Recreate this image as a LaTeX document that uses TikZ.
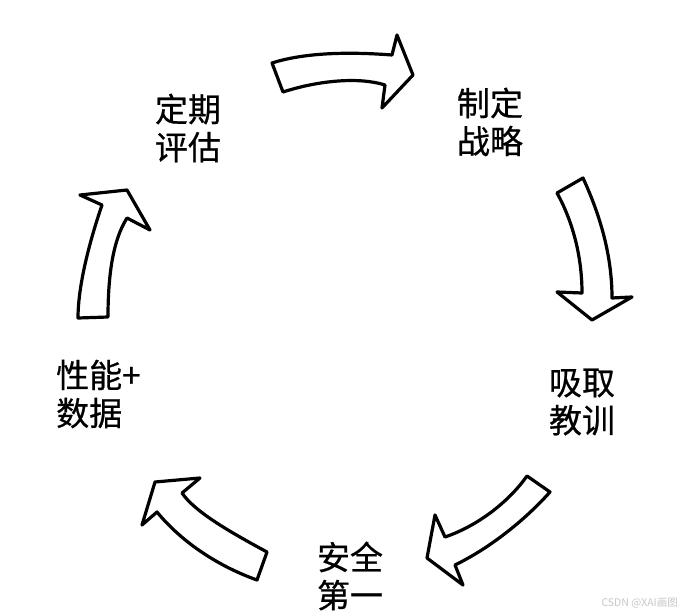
\documentclass[tikz,border=0pt]{standalone}
\usepackage{fontspec}
\setmainfont{Noto Sans CJK SC}
\newfontfamily\cjk[FakeBold=0.6]{Noto Sans CJK SC}
\newfontfamily\cjkwm{Noto Sans CJK SC}
\begin{document}
\begin{tikzpicture}[x=1pt,y=-1pt,
  bigarrow/.style={draw=black,line width=3.2pt,line join=round,fill=white},
  lbl/.style={inner sep=0pt,align=left,font=\cjk\fontsize{33}{38}\selectfont},
  wm/.style={inner sep=0pt,anchor=south east,text=black!22,font=\cjkwm\fontsize{10.5}{12}\selectfont}]
\useasboundingbox[fill=white] (0,0) rectangle (680,615);
% top arrow
\draw[bigarrow] (272,63) .. controls (300,54) and (340,51) .. (392,55) -- (397,35) -- (413,75) -- (382,108) -- (385,85) .. controls (360,77) and (320,80) .. (283,92) -- cycle;
% right arrow
\draw[bigarrow] (557,193) -- (583,178) .. controls (600,215) and (612,255) .. (612,298) -- (632,297) -- (592,320) -- (557,292) -- (582,293) .. controls (582,255) and (572,220) .. (557,193) -- cycle;
% lower right arrow
\draw[bigarrow] (527,476) -- (550,492) .. controls (525,520) and (490,548) .. (455,565) -- (463,585) -- (427,558) -- (435,515) -- (445,537) .. controls (480,525) and (510,500) .. (527,476) -- cycle;
% lower left arrow
\draw[bigarrow] (257,580) -- (267,552) .. controls (230,532) and (195,512) .. (182,493) -- (200,478) -- (155,482) -- (142,525) -- (157,512) .. controls (180,540) and (215,565) .. (257,580) -- cycle;
% left arrow
\draw[bigarrow] (78,318) -- (108,317) .. controls (108,275) and (113,240) .. (127,218) -- (150,230) -- (127,190) -- (80,195) -- (102,205) .. controls (90,240) and (78,285) .. (78,318) -- cycle;
% labels
\node[lbl] (pg) at (188,128) {定期\\评估};
\node[lbl] (zl) at (490,122) {制定\\战略};
\node[lbl] (xq) at (582,402) {吸取\\教训};
\node[lbl] (aq) at (350,576) {安全\\第一};
\node[lbl,anchor=west] (xn) at (56,394) {性能+\\数据};
\node[wm] (wmk) at (678,609) {CSDN @XAI画图};
\end{tikzpicture}
\end{document}
